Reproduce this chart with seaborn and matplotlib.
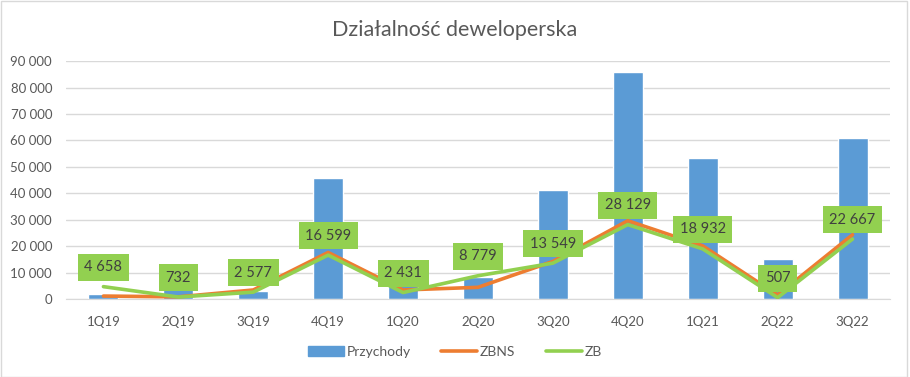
import matplotlib
matplotlib.use("Agg")
import matplotlib.pyplot as plt
import matplotlib.ticker as mticker
from matplotlib.patches import Patch
from matplotlib.lines import Line2D
import seaborn as sns
import pandas as pd

# --- DATA ---
quarters = ["1Q19", "2Q19", "3Q19", "4Q19", "1Q20", "2Q20", "3Q20", "4Q20", "1Q21", "2Q22", "3Q22"]
przychody = [1900, 4600, 3000, 45600, 6000, 8400, 41400, 85800, 53200, 15200, 60800]
zbns = [1100, 800, 3400, 17600, 3400, 4400, 14200, 29600, 20100, 1500, 24300]
zb = [4658, 732, 2577, 16599, 2431, 8779, 13549, 28129, 18932, 507, 22667]

BLUE = "#5B9BD5"
ORANGE = "#ED7D31"
GREEN = "#92D050"
TXT = "#595959"
GRID = "#D9D9D9"

df = pd.DataFrame({"kw": quarters, "Przychody": przychody, "ZBNS": zbns, "ZB": zb})
df["pos"] = range(len(df))

sns.set_style("white")
plt.rcParams["font.family"] = ["Lato", "DejaVu Sans"]

fig = plt.figure(figsize=(9.1, 3.77), dpi=100)
ax = fig.add_axes([0.0725, 0.207, 0.9055, 0.631])

sns.barplot(data=df, x="kw", y="Przychody", color=BLUE, width=0.4,
            saturation=1, ax=ax, zorder=2)
sns.lineplot(data=df, x="pos", y="ZBNS", color=ORANGE, linewidth=2.6, ax=ax, zorder=3)
sns.lineplot(data=df, x="pos", y="ZB", color=GREEN, linewidth=2.6, ax=ax, zorder=4)

# labels on ZB
fmt = lambda v: f"{v:,.0f}".replace(",", " ")
for i, v in enumerate(zb):
    ax.annotate(fmt(v), xy=(i, v), xytext=(0, 14), textcoords="offset points",
                ha="center", va="center", fontsize=10.5, color="#404040", zorder=6,
                bbox=dict(boxstyle="square,pad=0.45", fc=GREEN, ec="none"))

ax.set_ylim(0, 90000)
ax.set_xlim(-0.5, len(quarters) - 0.5)
ax.yaxis.set_major_locator(mticker.MultipleLocator(10000))
ax.yaxis.set_major_formatter(mticker.FuncFormatter(lambda v, p: fmt(v)))
ax.grid(axis="y", color=GRID, linewidth=1, zorder=0)
ax.set_axisbelow(True)
for s in ["top", "right", "left"]:
    ax.spines[s].set_visible(False)
ax.spines["bottom"].set_color(GRID)
ax.tick_params(axis="both", length=0, colors=TXT, labelsize=9.5)
ax.tick_params(axis="y", pad=10)
ax.tick_params(axis="x", pad=12)
ax.set_xlabel("")
ax.set_ylabel("")

fig.text(0.5, 0.92, "Działalność deweloperska", ha="center", va="center",
         fontsize=15.5, color=TXT)

handles = [Patch(color=BLUE, label="Przychody"),
           Line2D([], [], color=ORANGE, linewidth=2.6, label="ZBNS"),
           Line2D([], [], color=GREEN, linewidth=2.6, label="ZB")]
fig.legend(handles=handles, loc="center", bbox_to_anchor=(0.5, 0.067), ncol=3,
           frameon=False, fontsize=10, labelcolor=TXT, handlelength=2.6,
           handleheight=0.7, handletextpad=0.2, columnspacing=2.2)

fig.patches.append(plt.Rectangle((0.001, 0.001), 0.996, 0.997, transform=fig.transFigure,
                                 fill=False, edgecolor=GRID, linewidth=1))

fig.savefig("out.png", dpi=100)
